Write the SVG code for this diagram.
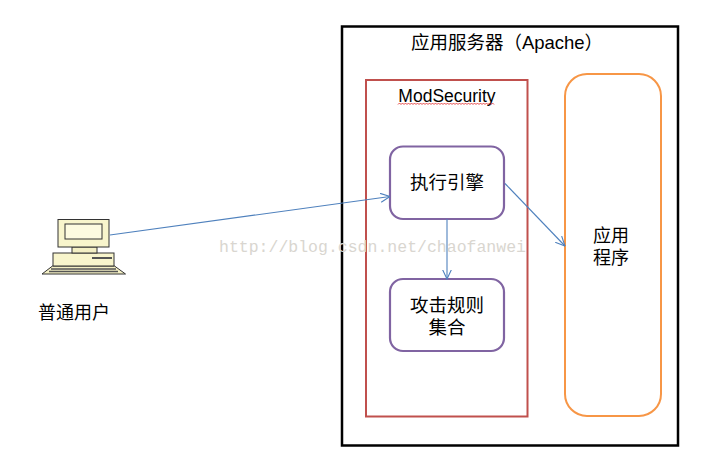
<svg xmlns="http://www.w3.org/2000/svg" width="728" height="472" viewBox="0 0 728 472">
<defs>
<style>
.t{font-family:"Liberation Sans","Noto Sans CJK SC",sans-serif;fill:#000;text-anchor:middle}
.c{fill:none;stroke:#4F81BD;stroke-width:1.1}
.p{fill:#fff;stroke:#8064A2;stroke-width:2.2}
.wm{font-family:"Liberation Mono",monospace;font-size:16.5px;fill:#d9d6d0}
</style>
<marker id="ah" viewBox="0 0 10 10" refX="9.5" refY="5" markerWidth="10" markerHeight="10" markerUnits="userSpaceOnUse" orient="auto">
<path d="M0,0.5 L9.5,5 L0,9.5" fill="none" stroke="#4F81BD" stroke-width="1.1"/>
</marker>
</defs>
<rect width="728" height="472" fill="#fff"/>
<g id="server">
<rect x="342" y="26.5" width="336" height="419" fill="none" stroke="#000" stroke-width="2.5"/>
<text class="t" x="507" y="49" font-size="18.5">应用服务器（Apache）</text>
</g>
<g id="modsecurity">
<rect x="366" y="80" width="161.5" height="336.5" fill="none" stroke="#C0504D" stroke-width="2"/>
<text class="t" x="447" y="102" font-size="17.5">ModSecurity</text>
<path d="M398,104.5 l1.5,-1.5 l1.5,1.5 l1.5,-1.5 l1.5,1.5 l1.5,-1.5 l1.5,1.5 l1.5,-1.5 l1.5,1.5 l1.5,-1.5 l1.5,1.5 l1.5,-1.5 l1.5,1.5 l1.5,-1.5 l1.5,1.5 l1.5,-1.5 l1.5,1.5 l1.5,-1.5 l1.5,1.5 l1.5,-1.5 l1.5,1.5 l1.5,-1.5 l1.5,1.5 l1.5,-1.5 l1.5,1.5 l1.5,-1.5 l1.5,1.5 l1.5,-1.5 l1.5,1.5 l1.5,-1.5 l1.5,1.5 l1.5,-1.5 l1.5,1.5 l1.5,-1.5 l1.5,1.5 l1.5,-1.5 l1.5,1.5 l1.5,-1.5 l1.5,1.5 l1.5,-1.5 l1.5,1.5 l1.5,-1.5 l1.5,1.5 l1.5,-1.5 l1.5,1.5 l1.5,-1.5 l1.5,1.5 l1.5,-1.5 l1.5,1.5 l1.5,-1.5 l1.5,1.5 l1.5,-1.5 l1.5,1.5 l1.5,-1.5 l1.5,1.5 l1.5,-1.5 l1.5,1.5 l1.5,-1.5 l1.5,1.5 l1.5,-1.5 l1.5,1.5 l1.5,-1.5 l1.5,1.5 l1.5,-1.5 l1.5,1.5" fill="none" stroke="#e02020" stroke-width="0.8"/>
</g>
<g id="app">
<rect x="565" y="74" width="96" height="342" rx="22" ry="22" fill="none" stroke="#F79646" stroke-width="2"/>
<text class="t" x="611" y="242" font-size="18">应用</text>
<text class="t" x="611" y="264" font-size="18">程序</text>
</g>
<g id="engine">
<rect class="p" x="390" y="146.5" width="114" height="72.5" rx="13" ry="13"/>
<text class="t" x="447" y="189" font-size="18.5">执行引擎</text>
</g>
<g id="rules">
<rect class="p" x="390" y="279" width="114" height="72" rx="13" ry="13"/>
<text class="t" x="447" y="312" font-size="18.5">攻击规则</text>
<text class="t" x="447" y="334" font-size="18.5">集合</text>
</g>
<g id="user">
<path d="M42,274 L52.5,266 L114.5,266 L125.5,274 Z" fill="#f3efc4" stroke="#333" stroke-width="1"/>
<path d="M49,271.5 L118,271.5 M51,269 L116,269" stroke="#555" stroke-width="1.6"/>
<rect x="53" y="253" width="61" height="13" fill="#f8f5cc" stroke="#333" stroke-width="1"/>
<rect x="92" y="257" width="20" height="2" fill="#555"/>
<rect x="72" y="247" width="25" height="6" fill="#f3efc4" stroke="#333" stroke-width="1"/>
<rect x="58" y="219.5" width="51" height="27.5" fill="#f8f5cc" stroke="#333" stroke-width="1"/>
<rect x="65" y="224" width="37" height="15" fill="#fdfbe0" stroke="#333" stroke-width="1"/>
<text class="t" x="74" y="319" font-size="18">普通用户</text>
</g>
<g id="connectors">
<line class="c" x1="110" y1="235" x2="390" y2="196.5" marker-end="url(#ah)"/>
<line class="c" x1="447" y1="219" x2="447" y2="279" marker-end="url(#ah)"/>
<line class="c" x1="505" y1="183.5" x2="565" y2="246" marker-end="url(#ah)"/>
</g>
<text class="wm" x="219" y="252">http://blog.csdn.net/chaofanwei</text>
</svg>
